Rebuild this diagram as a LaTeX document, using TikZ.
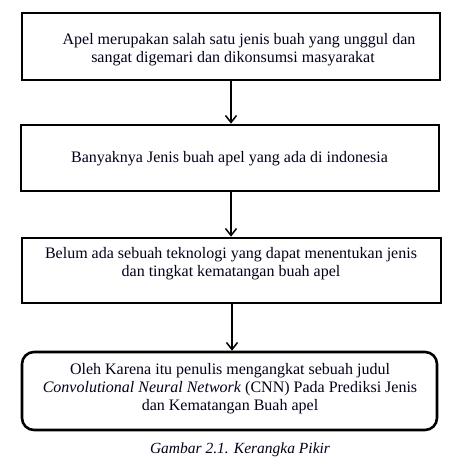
\documentclass[tikz,border=0pt]{standalone}
\usepackage{fontspec}
\setmainfont{Liberation Serif}
\usetikzlibrary{arrows.meta}
\begin{document}
\begin{tikzpicture}[x=1pt,y=-1pt,
  box/.style={draw=black,line width=2.6pt,minimum width=#1,inner sep=0pt,rectangle},
  txt/.style={align=center,inner sep=0pt,font=\fontsize{16}{18}\selectfont,text=black!90!blue},
  conn/.style={draw=black,line width=1.5pt,-{Straight Barb[length=7pt,width=11pt,line width=1.5pt]}}]
\useasboundingbox (0,0) rectangle (462,469);
\node[box=418pt,minimum height=67pt] (b1) at (231,46.5) {};
\node[box=418pt,minimum height=66pt] (b2) at (230,158) {};
\node[box=419pt,minimum height=65pt] (b3) at (231.5,270.5) {};
\node[box=415pt,minimum height=78pt,rounded corners=12pt] (b4) at (229.5,391) {};
\node[txt] (t1) at (233,50) {\hspace*{12pt}Apel merupakan salah satu jenis buah yang unggul dan\\sangat digemari dan dikonsumsi masyarakat};
\node[txt] (t2) at (229.5,159) {Banyaknya Jenis buah apel yang ada di indonesia};
\node[txt] (t3) at (231,264) {Belum ada sebuah teknologi yang dapat menentukan jenis\\dan tingkat kematangan buah apel};
\node[txt] (t4) at (230,389) {Oleh Karena itu penulis mengangkat sebuah judul\\\textit{Convolutional Neural Network} (CNN) Pada Prediksi Jenis\\dan Kematangan Buah apel};
\node[txt,font=\itshape\fontsize{15.5}{17}\selectfont] (cap) at (240,450) {Gambar 2.1. Kerangka Pikir};
\draw[conn] (b1.south) -- (b1.south |- b2.north);
\draw[conn] ([xshift=1pt]b2.south) -- ([xshift=1pt]b2.south |- b3.north);
\draw[conn] ([xshift=0.5pt]b3.south) -- ([xshift=0.5pt]b3.south |- b4.north);
\end{tikzpicture}
\end{document}
